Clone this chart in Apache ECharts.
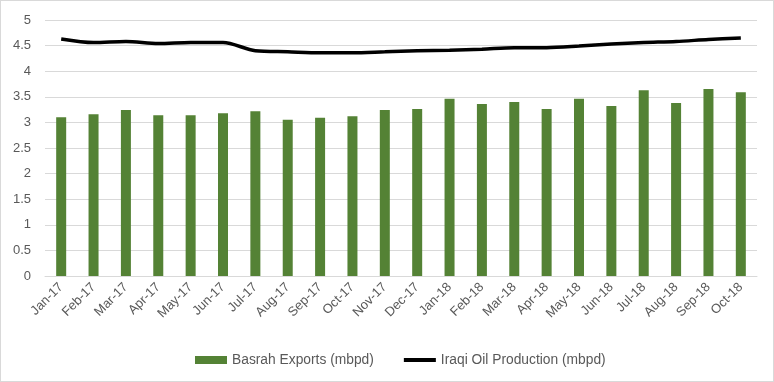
<!DOCTYPE html>
<html><head><meta charset="utf-8">
<script src="https://cdn.jsdelivr.net/npm/echarts@6/dist/echarts.min.js"></script>
<style>html,body{margin:0;padding:0;background:#fff;}#c{width:772px;height:380px;border:1px solid #d9d9d9;}</style>
</head><body><div id="c"></div>
<script>
const categories = ["Jan-17","Feb-17","Mar-17","Apr-17","May-17","Jun-17","Jul-17","Aug-17","Sep-17","Oct-17","Nov-17","Dec-17","Jan-18","Feb-18","Mar-18","Apr-18","May-18","Jun-18","Jul-18","Aug-18","Sep-18","Oct-18"];
const basrahExports = [3.10,3.16,3.24,3.14,3.14,3.18,3.22,3.05,3.09,3.12,3.24,3.26,3.46,3.36,3.40,3.26,3.46,3.32,3.63,3.38,3.65,3.59];
const iraqiProduction = [4.63,4.56,4.58,4.54,4.56,4.56,4.40,4.38,4.36,4.36,4.38,4.40,4.41,4.43,4.46,4.46,4.49,4.53,4.56,4.58,4.62,4.65];
const yTicks = {min:0, max:5, interval:0.5};

const chart = echarts.init(document.getElementById('c'));
chart.setOption({
  animation:false,
  textStyle:{fontFamily:'Liberation Sans'},
  grid:{left:44,right:16,top:19,bottom:105},
  legend:{
    top:347, left:189, itemGap:30, itemWidth:32, itemHeight:8,
    textStyle:{color:'#595959',fontSize:13.8},
    data:[
      {name:'Basrah Exports (mbpd)',icon:'rect'},
      {name:'Iraqi Oil Production (mbpd)',icon:'path://M0,0 L33,0 L33,4 L0,4 Z',itemStyle:{color:'#000'}}
    ]
  },
  xAxis:{
    type:'category', data:categories,
    axisLine:{lineStyle:{color:'#d9d9d9'}},
    axisTick:{show:false},
    axisLabel:{rotate:45,color:'#595959',fontSize:13,interval:0,margin:9}
  },
  yAxis:{
    type:'value', min:yTicks.min, max:yTicks.max, interval:yTicks.interval,
    axisLine:{show:false}, axisTick:{show:false},
    axisLabel:{color:'#595959',fontSize:13,margin:14},
    splitLine:{lineStyle:{color:'#d9d9d9'}}
  },
  series:[
    {name:'Basrah Exports (mbpd)',type:'bar',data:basrahExports,barWidth:10,itemStyle:{color:'#548235'}},
    {name:'Iraqi Oil Production (mbpd)',type:'line',data:iraqiProduction,smooth:0.3,symbol:'none',lineStyle:{color:'#000',width:3.5},itemStyle:{color:'#000'}}
  ]
});
</script></body></html>
